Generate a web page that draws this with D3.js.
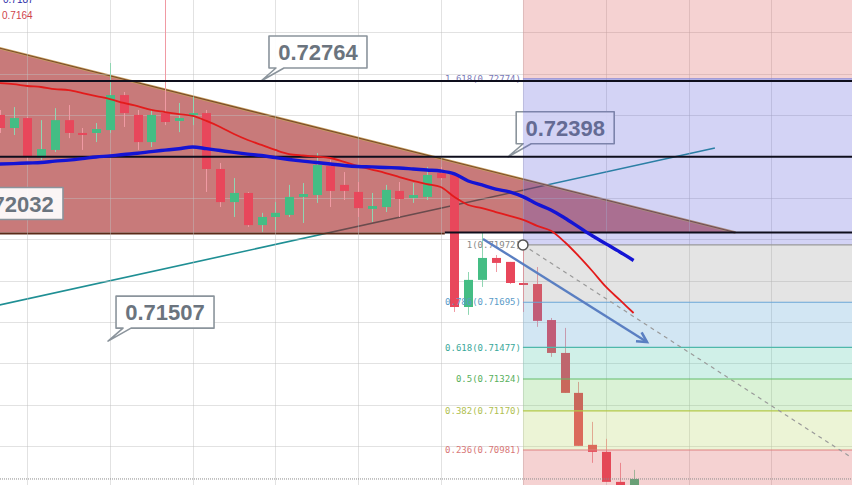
<!DOCTYPE html>
<html><head><meta charset="utf-8">
<script src="https://cdn.jsdelivr.net/npm/d3@7"></script>
<style>html,body{margin:0;padding:0;background:#fff;overflow:hidden}</style>
</head><body><svg id="c" width="852" height="485"></svg>
<script>
// ---------- DATA ----------
const candleIndex = d3.range(-1, 46);
const opens  = [0.72600,0.72537,0.72585,0.72392,0.72431,0.72575,0.72513,0.72513,0.72527,0.72696,0.72600,0.72469,0.72609,0.72571,0.72600,0.72609,0.72339,0.72179,0.72223,0.72068,0.72107,0.72117,0.72204,0.72213,0.72353,0.72262,0.72228,0.72146,0.72155,0.72233,0.72199,0.72204,0.72319,0.72310,0.71672,0.71803,0.71909,0.71890,0.71788,0.71783,0.71609,0.71450,0.71257,0.71006,0.70972,0.70827,0.70764];
const highs  = [0.72624,0.72638,0.72590,0.72575,0.72633,0.72648,0.72537,0.72561,0.72851,0.72711,0.72624,0.72624,0.73160,0.72658,0.72687,0.72624,0.72368,0.72295,0.72228,0.72127,0.72179,0.72262,0.72271,0.72416,0.72383,0.72324,0.72276,0.72223,0.72262,0.72276,0.72271,0.72349,0.72349,0.72319,0.71841,0.72035,0.71923,0.71890,0.71986,0.71865,0.71619,0.71571,0.71310,0.71117,0.71035,0.70919,0.70885];
const lows   = [0.72513,0.72503,0.72383,0.72383,0.72421,0.72488,0.72431,0.72469,0.72513,0.72542,0.72431,0.72445,0.72551,0.72517,0.72551,0.72228,0.72155,0.72107,0.72059,0.72035,0.72044,0.72107,0.72078,0.72175,0.72155,0.72189,0.72107,0.72083,0.72131,0.72107,0.72175,0.72189,0.72286,0.71648,0.71634,0.71769,0.71841,0.71783,0.71648,0.71576,0.71431,0.71257,0.71001,0.70919,0.70827,0.70764,0.70764];
const closes = [0.72537,0.72585,0.72397,0.72435,0.72575,0.72513,0.72508,0.72532,0.72696,0.72609,0.72469,0.72600,0.72566,0.72585,0.72609,0.72339,0.72179,0.72223,0.72068,0.72107,0.72127,0.72204,0.72218,0.72358,0.72233,0.72233,0.72150,0.72160,0.72238,0.72194,0.72213,0.72310,0.72295,0.71672,0.71803,0.71909,0.71885,0.71788,0.71779,0.71605,0.71450,0.71257,0.71001,0.70972,0.70827,0.70774,0.70841];
const maFast = [0.72754,0.72749,0.72740,0.72735,0.72725,0.72720,0.72706,0.72691,0.72677,0.72658,0.72643,0.72624,0.72614,0.72604,0.72595,0.72571,0.72542,0.72508,0.72479,0.72455,0.72431,0.72411,0.72404,0.72399,0.72392,0.72373,0.72353,0.72336,0.72319,0.72300,0.72281,0.72266,0.72252,0.72203,0.72165,0.72150,0.72131,0.72112,0.72093,0.72064,0.72040,0.71986,0.71919,0.71846,0.71769,0.71706,0.71643];
const maSlow = [0.72363,0.72365,0.72368,0.72370,0.72377,0.72382,0.72389,0.72397,0.72402,0.72409,0.72415,0.72423,0.72430,0.72437,0.72445,0.72437,0.72428,0.72419,0.72411,0.72404,0.72394,0.72385,0.72377,0.72370,0.72363,0.72356,0.72351,0.72349,0.72346,0.72344,0.72339,0.72334,0.72329,0.72315,0.72281,0.72262,0.72242,0.72228,0.72204,0.72170,0.72141,0.72102,0.72059,0.72016,0.71977,0.71938,0.71897];
const legendValues = ["0.7187", "0.7164"];

const levelPrices = [0.72764, 0.72398, 0.72032];
const levelStartIndex = [-3, -3, 31.3];
const calloutLabels = ["0.72764", "0.72398", "0.72032", "0.71507"];
const calloutPrices = [0.72764, 0.72398, 0.72032, 0.71507];
const calloutIndex  = [17.96, 35.9, -4.1, 6.86];

const fibRatios = ["1.618", "1", "0.786", "0.618", "0.5", "0.382", "0.236"];
const fibPrices = [0.72774, 0.71972, 0.71695, 0.71477, 0.71324, 0.71170, 0.70981];
const fibStartIndex = 36.97;

const wedge = [[-1.5, 0.72931], [52.4, 0.72032], [-1.5, 0.72032]];
const trendLine = [[-1, 0.71682], [50.9, 0.72440]];
const arrowLine = [[34.07, 0.72001], [45.97, 0.71503]];
const projection = [[36.97, 0.71972], [60.85, 0.70943]];
const gridIndex = [1, 7, 13, 19, 25, 31, 37, 43, 49, 55];
const gridPrices = d3.range(0.700, 0.7321, 0.002);

// ---------- SCALES ----------
const W = 852, H = 485;
const x = d3.scaleLinear().domain([0, 45]).range([13.5, 633.6]);
const y = d3.scaleLinear().domain([0.72032, 0.70981]).range([232.5, 450]);
const svg = d3.select("#c");

// ---------- STYLE ----------
const UP = "#44bd84", DOWN = "#e8475b";
const bandFill = ["rgba(215,75,75,0.25)","rgba(79,79,215,0.25)","rgba(147,147,147,0.25)","rgba(75,155,207,0.25)","rgba(67,195,163,0.25)","rgba(107,203,91,0.25)","rgba(179,211,91,0.25)","rgba(215,75,75,0.25)"];
const fibLine = ["#8a8ad6","#9a9a9a","#6aa6d6","#4fb8aa","#66bb6a","#b5c848","#e08080"];
const fibText = ["#7a7ab8","#8a8a8a","#5b9bc8","#3aa89a","#58b05c","#b0c050","#d87878"];

svg.append("rect").attr("width", W).attr("height", H).attr("fill", "#fff");

// teal trendline (under wedge)
svg.append("line")
  .attr("x1", x(trendLine[0][0])).attr("y1", y(trendLine[0][1]))
  .attr("x2", x(trendLine[1][0])).attr("y2", y(trendLine[1][1]))
  .attr("stroke", "#1f8f94").attr("stroke-width", 1.6);

// wedge
svg.append("path")
  .attr("d", d3.line().x(d => x(d[0])).y(d => y(d[1]))(wedge) + "Z")
  .attr("fill", "rgba(160,25,25,0.58)").attr("stroke", "none");
svg.append("line")
  .attr("x1", x(wedge[0][0])).attr("y1", y(wedge[0][1]))
  .attr("x2", x(wedge[1][0])).attr("y2", y(wedge[1][1]))
  .attr("stroke", "#c8a060").attr("stroke-width", 2.5);
svg.append("line")
  .attr("x1", x(wedge[0][0])).attr("y1", y(wedge[0][1]))
  .attr("x2", x(wedge[1][0])).attr("y2", y(wedge[1][1]))
  .attr("stroke", "#7a4a2a").attr("stroke-width", 1.2);
svg.append("line")
  .attr("x1", x(wedge[2][0])).attr("y1", y(wedge[2][1]) + 1)
  .attr("x2", x(levelStartIndex[2])).attr("y2", y(wedge[2][1]) + 1)
  .attr("stroke", "#5a2a18").attr("stroke-width", 2);

// gridlines
const grid = svg.append("g").attr("stroke", "rgba(190,190,190,0.45)").attr("stroke-width", 1);
gridPrices.forEach(p => grid.append("line").attr("x1", 0).attr("x2", W)
  .attr("y1", Math.round(y(p)) + 0.5).attr("y2", Math.round(y(p)) + 0.5));
gridIndex.forEach(i => grid.append("line").attr("y1", 0).attr("y2", H)
  .attr("x1", Math.round(x(i)) + 0.5).attr("x2", Math.round(x(i)) + 0.5));

// candles
const candles = candleIndex.map((idx, k) => ({idx, o: opens[k], h: highs[k], l: lows[k], c: closes[k]}));
const cg = svg.append("g");
candles.forEach(d => {
  const up = d.c >= d.o;
  const cx = Math.round(x(d.idx)) + 0.5;
  cg.append("line").attr("x1", cx).attr("x2", cx).attr("y1", y(d.h)).attr("y2", y(d.l))
    .attr("stroke", up ? "#8fd6b2" : "#f09aa3").attr("stroke-width", 1);
  const top = y(Math.max(d.o, d.c)), bot = y(Math.min(d.o, d.c));
  cg.append("rect").attr("x", cx - 4.5).attr("width", 9)
    .attr("y", top).attr("height", Math.max(2, bot - top))
    .attr("fill", up ? UP : DOWN);
});

// callouts
calloutLabels.forEach((lab, k) => {
  const tx = x(calloutIndex[k]), ty = y(calloutPrices[k]);
  const L = tx + 8, R = L + 98, T = ty - 45, B = ty - 13;
  const g = svg.append("g");
  g.append("path")
    .attr("d", `M${L},${T} H${R} V${B} H${L + 15} L${tx},${ty} L${L + 7},${B} H${L} Z`)
    .attr("fill", "rgba(255,255,255,0.92)").attr("stroke", "#8b949c").attr("stroke-width", 1.6)
    .attr("stroke-linejoin", "round");
  g.append("text").attr("x", (L + R) / 2).attr("y", (T + B) / 2 + 8)
    .attr("text-anchor", "middle").attr("font-family", "Liberation Sans, Arial, sans-serif")
    .attr("font-weight", "bold").attr("font-size", 22).attr("fill", "#6b747e").text(lab);
});

// fibonacci bands
const fx = x(fibStartIndex);
const bandEdges = [0].concat(fibPrices.map(p => y(p))).concat([H]);
for (let b = 0; b < bandEdges.length - 1; b++) {
  svg.append("rect").attr("x", fx).attr("width", W - fx)
    .attr("y", bandEdges[b]).attr("height", bandEdges[b + 1] - bandEdges[b])
    .attr("fill", bandFill[b]);
}
fibPrices.forEach((p, k) => {
  svg.append("line").attr("x1", fx).attr("x2", W).attr("y1", y(p)).attr("y2", y(p))
    .attr("stroke", fibLine[k]).attr("stroke-width", 1.2);
  svg.append("text").attr("x", fx - 2).attr("y", y(p)).attr("dy", "0.35em")
    .attr("text-anchor", "end").attr("font-family", "DejaVu Sans Mono, monospace")
    .attr("font-size", 9).attr("fill", fibText[k])
    .text(`${fibRatios[k]}(${p.toFixed(5)})`);
});

// key levels
levelPrices.forEach((p, k) => {
  svg.append("line").attr("x1", Math.max(0, x(levelStartIndex[k]))).attr("x2", W)
    .attr("y1", y(p)).attr("y2", y(p)).attr("stroke", "#0e0e1c").attr("stroke-width", 2.2);
});

// moving averages
const maLine = d3.line().x((d, i) => x(candleIndex[i])).y(d => y(d)).curve(d3.curveMonotoneX);
svg.append("path").attr("d", maLine(maFast)).attr("fill", "none")
  .attr("stroke", "#e31b1b").attr("stroke-width", 1.8);
svg.append("path").attr("d", maLine(maSlow)).attr("fill", "none")
  .attr("stroke", "#1414d4").attr("stroke-width", 3.4);

// projection dashed line
svg.append("line")
  .attr("x1", x(projection[0][0])).attr("y1", y(projection[0][1]))
  .attr("x2", x(projection[1][0])).attr("y2", y(projection[1][1]))
  .attr("stroke", "#9a9a9a").attr("stroke-width", 1.2).attr("stroke-dasharray", "4,4");

// arrow
const ax1 = x(arrowLine[0][0]), ay1 = y(arrowLine[0][1]);
const ax2 = x(arrowLine[1][0]), ay2 = y(arrowLine[1][1]);
svg.append("line").attr("x1", ax1).attr("y1", ay1).attr("x2", ax2).attr("y2", ay2)
  .attr("stroke", "#5a7fc2").attr("stroke-width", 2.4);
const ang = Math.atan2(ay2 - ay1, ax2 - ax1);
const hl = 11, ha = 0.5;
svg.append("path")
  .attr("d", `M${ax2 - hl * Math.cos(ang - ha)},${ay2 - hl * Math.sin(ang - ha)} L${ax2},${ay2} L${ax2 - hl * Math.cos(ang + ha)},${ay2 - hl * Math.sin(ang + ha)}`)
  .attr("fill", "none").attr("stroke", "#5a7fc2").attr("stroke-width", 2.6).attr("stroke-linejoin", "miter");

// fib anchor circle
svg.append("circle").attr("cx", fx).attr("cy", y(fibPrices[1])).attr("r", 5)
  .attr("fill", "#fff").attr("stroke", "#555").attr("stroke-width", 1.5);

// last price dotted line
svg.append("line").attr("x1", 0).attr("x2", W)
  .attr("y1", y(closes[closes.length - 1])).attr("y2", y(closes[closes.length - 1]))
  .attr("stroke", "#8a8a8a").attr("stroke-width", 1).attr("stroke-dasharray", "1,1");

// legend values
svg.append("text").attr("x", 3).attr("y", 3).attr("font-family", "Liberation Sans, Arial, sans-serif")
  .attr("font-size", 10).attr("fill", "#2a2aa8").text(legendValues[0]);
svg.append("text").attr("x", 2).attr("y", 19).attr("font-family", "Liberation Sans, Arial, sans-serif")
  .attr("font-size", 10).attr("fill", "#d0434b").text(legendValues[1]);
</script>
</body></html>
